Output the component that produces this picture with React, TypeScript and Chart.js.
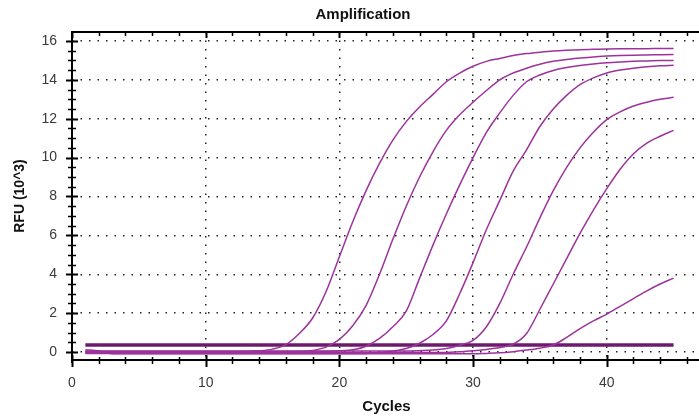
import React, { useEffect, useRef } from 'react';
import { Chart, registerables } from 'chart.js';

Chart.register(...registerables);

// ---- data ----
const cycles = [1, 2, 3, 4, 5, 6, 7, 8, 9, 10, 11, 12, 13, 14, 15, 16, 17, 18, 19, 20, 21, 22, 23, 24, 25, 26, 27, 28, 29, 30, 31, 32, 33, 34, 35, 36, 37, 38, 39, 40, 41, 42, 43, 44, 45];

const well1 = [0.02, 0.02, 0.02, 0.02, 0.02, 0.02, 0.02, 0.02, 0.02, 0.02, 0.02, 0.02, 0.02, 0.06, 0.15, 0.38, 0.95, 1.75, 3.1, 4.9, 6.7, 8.3, 9.7, 10.9, 11.85, 12.6, 13.25, 13.9, 14.35, 14.7, 14.95, 15.1, 15.25, 15.35, 15.42, 15.48, 15.52, 15.55, 15.57, 15.59, 15.6, 15.6, 15.6, 15.61, 15.61];
const well2 = [-0.04, -0.04, -0.04, -0.04, -0.04, -0.04, -0.04, -0.04, -0.04, -0.04, -0.04, -0.04, -0.04, -0.04, -0.04, -0.04, 0.0, 0.08, 0.25, 0.65, 1.35, 2.4, 4.0, 5.8, 7.5, 9.0, 10.3, 11.4, 12.2, 12.85, 13.45, 14.0, 14.35, 14.6, 14.8, 14.95, 15.05, 15.12, 15.18, 15.22, 15.25, 15.27, 15.28, 15.29, 15.3];
const well3 = [0.03, 0.03, 0.03, 0.03, 0.03, 0.03, 0.03, 0.03, 0.03, 0.03, 0.03, 0.03, 0.03, 0.03, 0.03, 0.03, 0.03, 0.03, 0.03, 0.06, 0.12, 0.3, 0.7, 1.3, 2.1, 3.8, 5.5, 7.1, 8.6, 10.0, 11.3, 12.3, 13.2, 13.9, 14.25, 14.48, 14.63, 14.74, 14.82, 14.88, 14.92, 14.95, 14.97, 14.99, 15.0];
const well4 = [-0.07, -0.07, -0.07, -0.07, -0.07, -0.07, -0.07, -0.07, -0.07, -0.07, -0.07, -0.07, -0.07, -0.07, -0.07, -0.07, -0.07, -0.07, -0.07, -0.07, -0.07, -0.07, -0.03, 0.05, 0.18, 0.45, 0.9, 1.6, 3.0, 4.6, 6.3, 7.8, 9.3, 10.4, 11.6, 12.5, 13.2, 13.75, 14.1, 14.35, 14.5, 14.6, 14.67, 14.72, 14.75];
const well5 = [0.05, 0.05, 0.05, 0.05, 0.05, 0.05, 0.05, 0.05, 0.05, 0.05, 0.05, 0.05, 0.05, 0.05, 0.05, 0.05, 0.05, 0.05, 0.05, 0.05, 0.05, 0.05, 0.05, 0.05, 0.05, 0.07, 0.1, 0.18, 0.35, 0.6, 1.3, 2.5, 4.0, 5.4, 6.9, 8.3, 9.5, 10.5, 11.3, 11.95, 12.35, 12.65, 12.85, 13.0, 13.1];
const well6 = [-0.02, -0.02, -0.02, -0.02, -0.02, -0.02, -0.02, -0.02, -0.02, -0.02, -0.02, -0.02, -0.02, -0.02, -0.02, -0.02, -0.02, -0.02, -0.02, -0.02, -0.02, -0.02, -0.02, -0.02, -0.02, -0.02, -0.02, -0.02, 0.02, 0.06, 0.13, 0.23, 0.4, 0.95, 2.2, 3.5, 4.8, 6.1, 7.3, 8.4, 9.4, 10.2, 10.75, 11.1, 11.4];
const well7 = [0.12, 0.05, -0.09, -0.09, -0.09, -0.09, -0.09, -0.09, -0.09, -0.09, -0.09, -0.09, -0.09, -0.09, -0.09, -0.09, -0.09, -0.09, -0.09, -0.09, -0.09, -0.09, -0.09, -0.09, -0.09, -0.09, -0.09, -0.09, -0.09, -0.09, -0.07, -0.04, 0.02, 0.1, 0.2, 0.36, 0.75, 1.2, 1.6, 1.95, 2.35, 2.75, 3.15, 3.5, 3.8];

const wells = [well1, well2, well3, well4, well5, well6, well7];
const thresholdRFU = 0.36;

const xTicks = [0, 10, 20, 30, 40];
const yTicks = [0, 2, 4, 6, 8, 10, 12, 14, 16];

const titleText = 'Amplification';
const xTitle = 'Cycles';
const yTitle = 'RFU (10^3)';

const FONT = '"Liberation Sans", Arial, sans-serif';
const CURVE_COLOR = '#9c339c';

const decoPlugin = {
  id: 'deco',
  afterDraw(chart: any) {
    const { ctx, chartArea: a, scales } = chart;
    const x = scales.x;
    const y = scales.y;
    ctx.save();
    ctx.strokeStyle = '#000';
    ctx.lineCap = 'butt';
    // axis lines
    ctx.lineWidth = 2;
    ctx.beginPath();
    ctx.moveTo(a.left, a.top);
    ctx.lineTo(a.left, a.bottom + 3);
    ctx.moveTo(a.left - 1, a.bottom);
    ctx.lineTo(a.right, a.bottom);
    ctx.moveTo(a.left - 1, a.top);
    ctx.lineTo(a.right, a.top);
    ctx.stroke();
    // x ticks (bottom & top)
    for (let v = 0; v <= x.max; v += 2) {
      const px = Math.round(x.getPixelForValue(v)) + 0.5;
      const major = v % 10 === 0;
      ctx.lineWidth = major ? 2 : 1.5;
      ctx.beginPath();
      ctx.moveTo(px, a.bottom - (major ? 5 : 3));
      ctx.lineTo(px, a.bottom + (major ? 7 : 4));
      ctx.moveTo(px, a.top);
      ctx.lineTo(px, a.top + (major ? 6 : 4));
      ctx.stroke();
    }
    // y ticks
    for (let v = 0; v <= y.max; v += 0.5) {
      const py = Math.round(y.getPixelForValue(v)) + 0.5;
      const major = v % 2 === 0;
      ctx.lineWidth = major ? 2 : 1.5;
      ctx.beginPath();
      ctx.moveTo(a.left - (major ? 6 : 4), py);
      ctx.lineTo(a.left + (major ? 6 : 4), py);
      ctx.stroke();
    }
    // titles
    ctx.fillStyle = '#111';
    ctx.textAlign = 'center';
    ctx.textBaseline = 'middle';
    ctx.font = `bold 15px ${FONT}`;
    ctx.fillText(titleText, 363, 15);
    ctx.fillText(xTitle, (a.left + a.right) / 2 + 1, 407);
    ctx.translate(20, (a.top + a.bottom) / 2);
    ctx.rotate(-Math.PI / 2);
    ctx.font = `bold 14px ${FONT}`;
    ctx.fillText(yTitle, 0, 0);
    ctx.restore();
  },
};

export default function App() {
  const ref = useRef<HTMLCanvasElement>(null);
  useEffect(() => {
    if (!ref.current) return;
    const datasets: any[] = wells.map((w) => ({
      data: cycles.map((c, i) => ({ x: c, y: w[i] })),
      borderColor: CURVE_COLOR,
      borderWidth: 1.5,
      pointRadius: 0,
      tension: 0.4,
      cubicInterpolationMode: 'monotone',
      fill: false,
    }));
    datasets.push({
      data: [
        { x: cycles[0], y: thresholdRFU },
        { x: cycles[cycles.length - 1], y: thresholdRFU },
      ],
      borderColor: '#6d1a6d',
      borderWidth: 3.5,
      pointRadius: 0,
      fill: false,
    });
    const chart = new Chart(ref.current, {
      type: 'line',
      data: { datasets },
      options: {
        animation: false,
        responsive: false,
        layout: { padding: { top: 32, left: 0, right: 0, bottom: 0 } },
        plugins: { legend: { display: false }, title: { display: false }, tooltip: { enabled: false } },
        scales: {
          x: {
            type: 'linear',
            min: 0,
            max: 46.9,
            afterFit: (s: any) => { s.height = 56; },
            afterBuildTicks: (s: any) => { s.ticks = xTicks.map((v) => ({ value: v })); },
            ticks: { color: '#3a3a3a', font: { family: FONT, size: 14 }, padding: 15, maxRotation: 0, autoSkip: false },
            grid: { drawTicks: false, color: '#222', lineWidth: 1.5 },
            border: { display: false, dash: [1.5, 7] },
          },
          y: {
            type: 'linear',
            min: -0.41,
            max: 16.46,
            afterFit: (s: any) => { s.width = 72; },
            afterBuildTicks: (s: any) => { s.ticks = yTicks.map((v) => ({ value: v })); },
            ticks: { color: '#3a3a3a', font: { family: FONT, size: 14 }, padding: 15, autoSkip: false },
            grid: { drawTicks: false, color: '#222', lineWidth: 1.5 },
            border: { display: false, dash: [1.5, 7] },
          },
        },
      },
      plugins: [decoPlugin],
    });
    return () => chart.destroy();
  }, []);
  return (
    <div style={{ position: 'absolute', left: 0, top: 0, width: 699, height: 416, background: '#fff' }}>
      <canvas ref={ref} width={699} height={416} style={{ display: 'block' }} />
    </div>
  );
}
